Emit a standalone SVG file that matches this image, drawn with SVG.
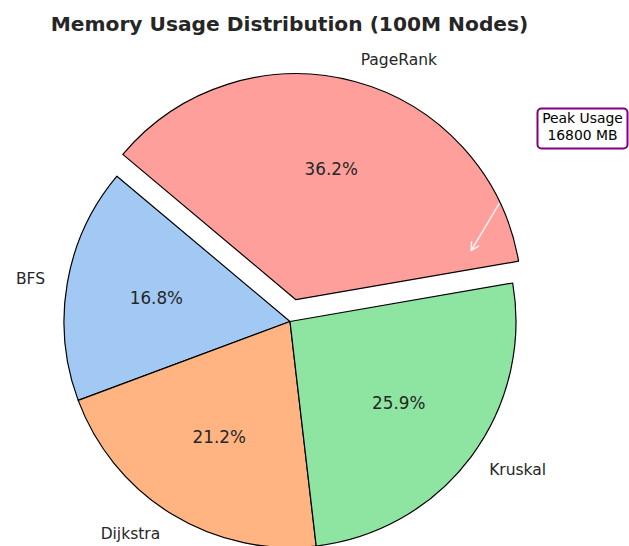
<svg xmlns="http://www.w3.org/2000/svg" width="629" height="546" viewBox="0 0 629 546">
<style>
.wedge{stroke:#000;stroke-width:1.2;stroke-linejoin:round}
.lbl{font-family:"DejaVu Sans",sans-serif;font-size:15.5px;fill:#262626;dominant-baseline:central}
.pct{font-family:"DejaVu Sans",sans-serif;font-size:16.8px;fill:#262626;text-anchor:middle;dominant-baseline:central}
.title{font-family:"DejaVu Sans",sans-serif;font-size:20.2px;font-weight:bold;fill:#262626;text-anchor:middle}
.note{font-family:"DejaVu Sans",sans-serif;font-size:13.9px;fill:#000;text-anchor:middle}
</style>
<defs>
<marker id="openhead" markerWidth="12" markerHeight="12" refX="9" refY="5" orient="auto" markerUnits="userSpaceOnUse">
<path d="M1,0.5 L9,5 L1,9.5" fill="none" stroke="#fff" stroke-opacity="0.85" stroke-width="1.5"/>
</marker>
</defs>
<rect width="629" height="546" fill="#fff"/>
<text class="title" x="289.5" y="31">Memory Usage Distribution (100M Nodes)</text>
<g id="bfs">
<path class="wedge" fill="#a1c9f4" d="M290,321.5 L116.9,176.2 A226,226 0 0 0 78.2,400.4 Z"/>
<text class="lbl" x="45" y="279.2" text-anchor="end">BFS</text>
<text class="pct" x="156.4" y="298.4">16.8%</text>
</g>
<g id="dijkstra">
<path class="wedge" fill="#ffb482" d="M290,321.5 L78.2,400.4 A226,226 0 0 0 316.2,546 Z"/>
<text class="lbl" x="160.2" y="533.6" text-anchor="end">Dijkstra</text>
<text class="pct" x="219.2" y="437.2">21.2%</text>
</g>
<g id="kruskal">
<path class="wedge" fill="#8de5a1" d="M290,321.5 L316.2,546 A226,226 0 0 0 512.7,283 Z"/>
<text class="lbl" x="489.2" y="470.2" text-anchor="start">Kruskal</text>
<text class="pct" x="398.7" y="402.6">25.9%</text>
</g>
<g id="pagerank">
<path class="wedge" fill="#ff9f9b" d="M295.9,299.7 L518.6,261.2 A226,226 0 0 0 122.8,154.4 Z"/>
<text class="lbl" x="360.7" y="59.7" text-anchor="start">PageRank</text>
<text class="pct" x="331.2" y="168.5">36.2%</text>
</g>
<g id="peak-note">
<rect x="537.5" y="108.5" width="90" height="40" rx="4" ry="4" fill="#fff" stroke="#800080" stroke-width="2"/>
<text class="note" x="582.5" y="123.3">Peak Usage</text>
<text class="note" x="582.5" y="140">16800 MB</text>
</g>
<g id="connectors">
<line x1="499.3" y1="203.3" x2="471.3" y2="250.3" stroke="#fff" stroke-opacity="0.85" stroke-width="1.5" marker-end="url(#openhead)"/>
</g>
</svg>
